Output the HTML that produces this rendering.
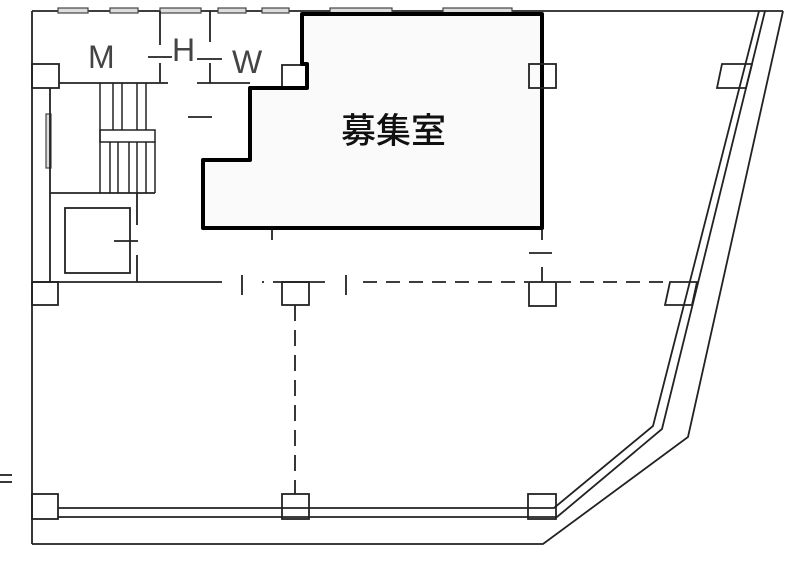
<!DOCTYPE html>
<html><head><meta charset="utf-8"><style>
html,body{margin:0;padding:0;background:#fff;}
svg{display:block;}
</style></head><body>
<svg width="787" height="575" viewBox="0 0 787 575" xmlns="http://www.w3.org/2000/svg">
<g fill="none" stroke="#222" stroke-width="1.8">
<line x1="32" y1="11" x2="783" y2="11"/>
<line x1="32" y1="11" x2="32" y2="544"/>
<polyline points="32,544 543,544 688,437 783,11"/>
<polyline points="765,11 662,429 557,517 58,517"/>
<polyline points="759,11 653,426 554,508 58,508"/>
<g fill="#ddd" stroke="#444" stroke-width="1.2">
<rect x="58" y="8" width="30" height="5"/><rect x="110" y="8" width="28" height="5"/>
<rect x="160" y="8" width="41" height="5"/><rect x="218" y="8" width="28" height="5"/>
<rect x="262" y="8" width="27" height="5"/><rect x="330" y="8" width="62" height="5"/>
<rect x="443" y="8" width="69" height="5"/>
<rect x="46" y="114" width="5" height="54"/>
</g>
<rect x="32" y="64" width="27" height="24"/>
<rect x="282" y="65" width="25" height="22"/>
<polygon points="722,64 752,64 746,88 717,88"/>
<rect x="32" y="282" width="26" height="23"/>
<rect x="282" y="282" width="27" height="23"/>
<rect x="529" y="282" width="27" height="24"/>
<polygon points="670,282 697,282 692,305 665,305"/>
<rect x="32" y="494" width="26" height="25"/>
<rect x="282" y="494" width="27" height="25"/>
<rect x="528" y="494" width="28" height="25"/>
<line x1="59" y1="83" x2="168" y2="83"/><line x1="197" y1="83" x2="250" y2="83"/>
<line x1="160" y1="11" x2="160" y2="45"/><line x1="160" y1="63" x2="160" y2="83"/>
<line x1="148" y1="57" x2="172" y2="57"/>
<line x1="210" y1="11" x2="210" y2="42"/><line x1="210" y1="63" x2="210" y2="83"/>
<line x1="197" y1="59" x2="222" y2="59"/>
<g stroke-width="1.5">
<line x1="100" y1="83" x2="100" y2="193"/><line x1="113" y1="83" x2="113" y2="130"/>
<line x1="122" y1="83" x2="122" y2="130"/><line x1="137" y1="83" x2="137" y2="130"/>
<line x1="146" y1="83" x2="146" y2="130"/>
<rect x="100" y="130" width="55" height="12"/>
<line x1="110" y1="142" x2="110" y2="193"/><line x1="118" y1="142" x2="118" y2="193"/>
<line x1="129" y1="142" x2="129" y2="193"/><line x1="137" y1="142" x2="137" y2="193"/>
<line x1="146" y1="142" x2="146" y2="193"/><line x1="155" y1="142" x2="155" y2="193"/>
</g>
<line x1="50" y1="88" x2="50" y2="282"/>
<line x1="50" y1="193" x2="155" y2="193"/>
<rect x="65" y="208" width="65" height="65"/>
<line x1="137" y1="193" x2="137" y2="225"/><line x1="137" y1="255" x2="137" y2="282"/>
<line x1="114" y1="241" x2="138" y2="241"/>
<line x1="32" y1="282" x2="222" y2="282"/>
<line x1="242" y1="275" x2="242" y2="295"/>
<line x1="262" y1="282" x2="264" y2="282"/>
<line x1="273" y1="282" x2="325" y2="282"/>
<line x1="346" y1="275" x2="346" y2="295"/>
<line x1="363" y1="282" x2="528" y2="282" stroke-dasharray="14,9"/>
<line x1="557" y1="282" x2="668" y2="282" stroke-dasharray="14,9"/>
<line x1="295" y1="305" x2="295" y2="494" stroke-dasharray="16,9"/>
<line x1="188" y1="117" x2="212" y2="117"/>
<line x1="272" y1="215" x2="272" y2="240"/>
<line x1="542" y1="228" x2="542" y2="240"/>
<line x1="529" y1="253" x2="552" y2="253"/>
<line x1="542" y1="267" x2="542" y2="282"/>
<line x1="0" y1="475" x2="12" y2="475"/><line x1="0" y1="482" x2="12" y2="482"/>
</g>
<polygon points="302,14 542,14 542,228 203,228 203,160 250,160 250,88 307,88 307,64 302,64" fill="#fafafa" stroke="#000" stroke-width="4" stroke-linejoin="round"/>
<rect x="529" y="64" width="27" height="24" fill="none" stroke="#222" stroke-width="1.8"/>
<g font-family="Liberation Sans, sans-serif" fill="#444" font-size="32">
<text x="88" y="68">M</text>
<text x="172" y="61">H</text>
<text x="232" y="73">W</text>
</g>
<text x="341" y="143" font-family="'Liberation Sans','Noto Sans CJK JP',sans-serif" font-size="35" font-weight="500" fill="#111">募集室</text>
</svg>
</body></html>
